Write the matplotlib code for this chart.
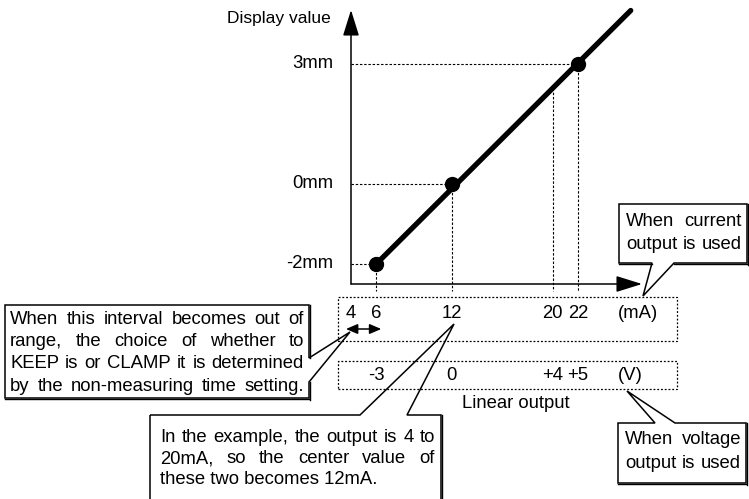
import numpy as np
import matplotlib
matplotlib.use("Agg")
import matplotlib.pyplot as plt
from matplotlib.patches import Polygon, Rectangle
from matplotlib.lines import Line2D
from matplotlib.transforms import blended_transform_factory

plt.rcParams['font.family'] = ['Liberation Sans', 'DejaVu Sans']

# data
point_ma = [6, 12, 22]          # current output (mA) at the marked points
point_mm = [-2, 0, 3]           # display value (mm)
ytick_mm = [3, 0, -2]
ytick_labels = ['3mm', '0mm', '-2mm']
ma_ticks = [4, 6, 12, 20, 22]
ma_labels = ['4', '6', '12', '20', '22']
v_ticks = [6, 12, 20, 22]       # same positions as mA
v_labels = ['-3', '0', '+4', '+5']
guide_ma = 20                   # extra dashed guide
line_end_ma = 26.2              # where the drawn line stops

W, H = 749, 499
# scale of the drawing (pixels)
MA0_PX, PX_PER_MA, MA0 = 351, 12.6, 4
MM0_PX, PX_PER_MM = 184, 40

fig = plt.figure(figsize=(W / 100, H / 100), dpi=100)
ax = fig.add_axes([0, 0, 1, 1])
ax.set_xlim(MA0 - MA0_PX / PX_PER_MA, MA0 + (W - MA0_PX) / PX_PER_MA)
ax.set_ylim((MM0_PX - H) / PX_PER_MM, MM0_PX / PX_PER_MM)
ax.axis('off')


def fx(px):
    return px / W


def fy(py):
    return 1 - py / H


def mm_at(py):
    return (MM0_PX - py) / PX_PER_MM


def ma_at(px):
    return MA0 + (px - MA0_PX) / PX_PER_MA


x_data_y_fig = blended_transform_factory(ax.transData, fig.transFigure)
x_fig_y_data = blended_transform_factory(fig.transFigure, ax.transData)

axis_mm = mm_at(284)
guide_bottom = mm_at(291)

# axes with arrow heads
arrow = dict(arrowstyle='-|>,head_length=1.6,head_width=0.5', mutation_scale=10,
             color='black', lw=1.1, shrinkA=0, shrinkB=0)
ax.annotate('', xy=(MA0, mm_at(10)), xytext=(MA0, axis_mm), arrowprops=arrow)
ax.annotate('', xy=(ma_at(642), axis_mm), xytext=(MA0, axis_mm), arrowprops=arrow)

# dashed guides
dash = dict(color='black', lw=0.8, ls=(0, (2.2, 1.6)))
for m, v in zip(point_ma, point_mm):
    ax.plot([MA0, m], [v, v], **dash)
    ax.plot([m, m], [v, guide_bottom], **dash)
slope, icpt = np.polyfit(point_ma, point_mm, 1)
ax.plot([guide_ma, guide_ma], [slope * guide_ma + icpt, guide_bottom], **dash)

# main line and points
ax.plot([point_ma[0], line_end_ma], [point_mm[0], slope * line_end_ma + icpt],
        color='black', lw=3.8, solid_capstyle='round')
ax.plot(point_ma, point_mm, 'o', color='black', ms=10)

fs = 13.3
for v, lab in zip(ytick_mm, ytick_labels):
    fig.text(fx(333), v, lab, transform=x_fig_y_data, ha='right', va='center', fontsize=fs)
fig.text(fx(331), fy(18), 'Display value', ha='right', va='center', fontsize=12.5)

# dotted label boxes
for top, bot in [(297, 341), (361, 389)]:
    fig.patches.append(Rectangle((fx(338), fy(bot)), fx(677) - fx(338), fy(top) - fy(bot),
                                 transform=fig.transFigure, fill=False, lw=0.9,
                                 ls=(0, (1.5, 1.5)), color='black'))

for m, lab in zip(ma_ticks, ma_labels):
    ax.text(m, fy(313), lab, transform=x_data_y_fig, ha='center', va='center', fontsize=fs)
fig.text(fx(638), fy(313), '(mA)', ha='center', va='center', fontsize=fs)
for m, lab in zip(v_ticks, v_labels):
    ax.text(m, fy(376), lab, transform=x_data_y_fig, ha='center', va='center', fontsize=fs)
fig.text(fx(630), fy(376), '(V)', ha='center', va='center', fontsize=fs)
fig.text(fx(516), fy(403), 'Linear output', ha='center', va='center', fontsize=fs)

# double arrow over the 4-6 interval
ax.annotate('', xy=(ma_ticks[1] + 0.4, fy(329)), xytext=(ma_ticks[0] - 0.4, fy(329)),
            xycoords=x_data_y_fig, textcoords=x_data_y_fig,
            arrowprops=dict(arrowstyle='<|-|>,head_length=0.7,head_width=0.3',
                            mutation_scale=10, color='black', lw=1.1,
                            shrinkA=0, shrinkB=0))


def callout(pts, shadow):
    poly = Polygon([(fx(x), fy(y)) for x, y in pts], closed=True, fill=False,
                   edgecolor='black', lw=1.1, transform=fig.transFigure)
    fig.patches.append(poly)
    # slight drop shadow on right / bottom edges
    for (xa, ya), (xb, yb) in shadow:
        off_x = 1.3 if xa == xb else 0
        off_y = 1.3 if ya == yb else 0
        fig.lines.append(Line2D([fx(xa + off_x), fx(xb + off_x)],
                                [fy(ya + off_y), fy(yb + off_y)],
                                color='black', lw=1.0, transform=fig.transFigure))


callout([(5, 305), (309, 305), (309, 358), (350, 332), (309, 382), (309, 398), (5, 398)],
        [((309, 305), (309, 358)), ((309, 382), (309, 400)), ((5, 398), (309, 398))])
callout([(150, 415), (360, 415), (454, 324), (407, 415), (441, 415), (441, 510), (150, 510)],
        [((441, 415), (441, 510))])
callout([(619, 204), (747, 204), (747, 263), (674, 263), (643, 296), (652, 263), (619, 263)],
        [((747, 204), (747, 265)), ((619, 263), (652, 263)), ((674, 263), (747, 263))])
callout([(618, 423), (655, 423), (627, 391), (675, 423), (746, 423), (746, 483), (618, 483)],
        [((746, 423), (746, 485)), ((618, 483), (746, 483))])

renderer = fig.canvas.get_renderer()


def justify(lines, x0, x1, y0, dy, last_full=True):
    for i, line in enumerate(lines):
        y = fy(y0 + i * dy)
        words = line.split()
        if len(words) == 1 or (i == len(lines) - 1 and not last_full):
            fig.text(fx(x0), y, line, ha='left', va='center', fontsize=fs)
            continue
        widths = []
        for w in words:
            t = fig.text(0, 0, w, fontsize=fs)
            widths.append(t.get_window_extent(renderer).width)
            t.remove()
        gap = (x1 - x0 - sum(widths)) / (len(words) - 1)
        x = x0
        for w, wd in zip(words, widths):
            fig.text(fx(x), y, w, ha='left', va='center', fontsize=fs)
            x += wd + gap


justify(['When this interval becomes out of',
         'range, the choice of whether to',
         'KEEP is or CLAMP it is determined',
         'by the non-measuring time setting.'], 10, 304, 319, 22.5)
justify(['In the example, the output is 4 to',
         '20mA, so the center value of',
         'these two becomes 12mA.'], 160, 435, 437, 21.5, last_full=False)
justify(['When current', 'output is used'], 626, 742, 221, 24)
justify(['When voltage', 'output is used'], 625, 741, 440, 24)

fig.savefig('out.png', dpi=100)
